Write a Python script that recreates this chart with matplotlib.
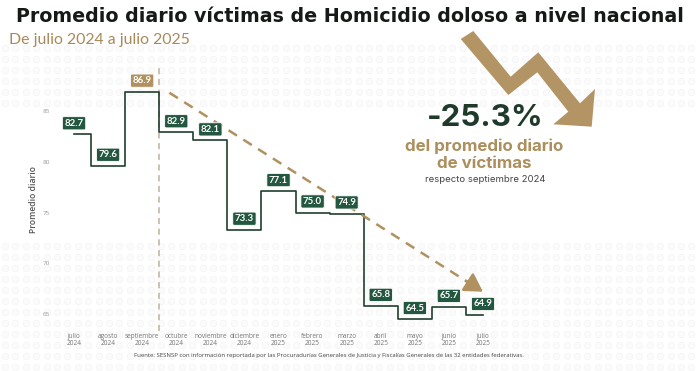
import matplotlib
matplotlib.use("Agg")
import matplotlib.pyplot as plt
from matplotlib.patches import Polygon
import numpy as np

# ---------------- data ----------------
months = ['julio\n2024', 'agosto\n2024', 'septiembre\n2024', 'octubre\n2024',
          'noviembre\n2024', 'diciembre\n2024', 'enero\n2025', 'febrero\n2025',
          'marzo\n2025', 'abril\n2025', 'mayo\n2025', 'junio\n2025', 'julio\n2025']
values = [82.7, 79.6, 86.9, 82.9, 82.1, 73.3, 77.1, 75.0, 74.9, 65.8, 64.5, 65.7, 64.9]
highlight_idx = 2
yticks = [65, 70, 75, 80, 85]
trend_start = (2.8, 86.8)
trend_end = (12.0, 67.2)

# ---------------- style ----------------
GREEN_LINE = '#1f3f2e'
GREEN_BOX = '#24573f'
TAN = '#b0915f'
GRAY = '#777777'

W, H = 700, 371
fig = plt.figure(figsize=(7, 3.71), dpi=100)
fig.patch.set_facecolor('white')

def px(x, y):
    return (x / W, 1 - y / H)

# faint decorative dot pattern in background
bg = fig.add_axes([0, 0, 1, 1], zorder=-10)
bg.set_xlim(0, W)
bg.set_ylim(H, 0)
bg.axis('off')
gx = np.arange(5, W, 10.4)
for gy in list(np.arange(48, 112, 11)) + list(np.arange(246, H + 5, 11)):
    bg.scatter(gx, np.full_like(gx, gy), s=22, facecolor='#fbfbfb', edgecolor='#f4f4f4', lw=0.5)

# axes placement (pixels)
ax_left, ax_right, ax_top, ax_bottom = 55.3, 500.0, 67.4, 331.3
ax = fig.add_axes([ax_left / W, 1 - ax_bottom / H, (ax_right - ax_left) / W, (ax_bottom - ax_top) / H])
ax.set_facecolor('none')

x = list(range(len(values)))
ax.plot(x, values, drawstyle='steps-mid', color=GREEN_LINE, lw=1.2, zorder=3)
ax.set_xlim(-0.55, 12.5)
ax.set_ylim(63.3, 89.3)

for s in ax.spines.values():
    s.set_visible(False)
ax.set_yticks(yticks)
ax.set_yticklabels([str(t) for t in yticks], fontsize=4.6, color='#999999', family='Open Sans')
ax.set_xticks(x)
ax.set_xticklabels(months, fontsize=4.7, color=GRAY, family='Open Sans', linespacing=0.95)
ax.tick_params(axis='both', length=0)
ax.tick_params(axis='y', pad=4)
ax.tick_params(axis='x', pad=1.5)
ax.set_ylabel('Promedio diario', fontsize=6.2, color='#555555', family='Open Sans',
              fontweight='semibold', labelpad=3)

# vertical dashed separator
ax.axvline(2.5, color='#bfb29a', lw=1.1, ls=(0, (4, 3)), zorder=1)

# value labels
for i, v in enumerate(values):
    fc = TAN if i == highlight_idx else GREEN_BOX
    ax.annotate(f'{v:.1f}', xy=(i, v), xytext=(0, 8), textcoords='offset points',
                ha='center', va='center', fontsize=6.9, fontweight='bold', color='white',
                family='Lato',
                bbox=dict(boxstyle='round,pad=0.22,rounding_size=0.15', fc=fc, ec='white', lw=0.6),
                zorder=5)

# dashed trend arrow
ax.plot([trend_start[0], trend_end[0] - 0.4], [trend_start[1], trend_end[1] + 0.85],
        color=TAN, lw=1.8, ls=(0, (4, 3)), zorder=4)
ax.annotate('', xy=trend_end, xytext=(trend_end[0] - 0.5, trend_end[1] + 1.07),
            arrowprops=dict(arrowstyle='-|>,head_length=1.1,head_width=0.65', color=TAN, lw=1.8,
                            shrinkA=0, shrinkB=0), zorder=4)

# big zigzag arrow (decoration)
pts = [(460.7, 39.0), (473.3, 31.0), (510.7, 76.7), (538.3, 52.3), (580, 103.3), (595, 89),
       (591.7, 126.7), (553.3, 124.3), (568.3, 111.7), (537.3, 72.3), (508.3, 95)]
fig.patches.append(Polygon([px(a, b) for a, b in pts], closed=True, fc='#b39565', ec='none',
                           transform=fig.transFigure, zorder=1))

# titles
fig.text(*px(350, 17), 'Promedio diario víctimas de Homicidio doloso a nivel nacional',
         ha='center', va='center', fontsize=13.7, fontweight='bold', color='#151a16', family='DejaVu Sans')
fig.text(*px(9, 40), 'De julio 2024 a julio 2025', ha='left', va='center', fontsize=11.4,
         color='#a8895a', family='Lato')

# right annotation
fig.text(*px(485, 118), '-25.3%', ha='center', va='center', fontsize=22.5, fontweight='bold',
         color='#1f3a2b', family='Inter')
fig.text(*px(484, 146), 'del promedio diario', ha='center', va='center', fontsize=12.2,
         fontweight='bold', color='#ad8f5e', family='Inter')
fig.text(*px(484, 163), 'de víctimas', ha='center', va='center', fontsize=12.2,
         fontweight='bold', color='#ad8f5e', family='Inter')
fig.text(*px(485, 179), 'respecto septiembre 2024', ha='center', va='center', fontsize=6.9,
         color='#444444', family='Inter')

# footnote
fig.text(*px(329, 356), 'Fuente: SESNSP con información reportada por las Procuradurías Generales de Justicia y '
         'Fiscalías Generales de las 32 entidades federativas.', ha='center', va='center',
         fontsize=4.3, color='#444444', family='Open Sans')

fig.savefig('out.png', dpi=100, facecolor='white')
